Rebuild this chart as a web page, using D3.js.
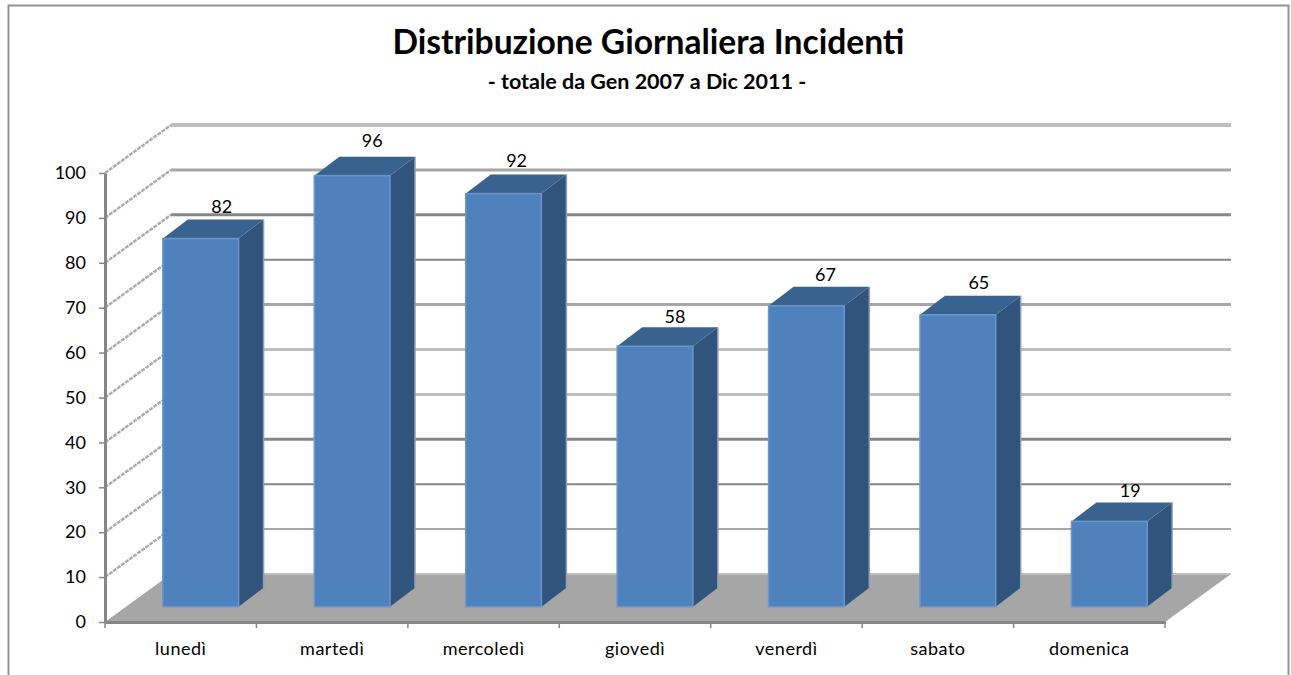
<!DOCTYPE html>
<html>
<head>
<meta charset="utf-8">
<script src="https://cdn.jsdelivr.net/npm/d3@7"></script>
<style>
html,body{margin:0;padding:0;background:#fff;overflow:hidden}
svg{display:block}
text{font-family:Lato,"Open Sans",sans-serif;fill:#000}
</style>
</head>
<body>
<svg id="c" width="1291" height="675"></svg>
<script>
const titleText = "Distribuzione Giornaliera Incidenti";
const subtitleText = "- totale da Gen 2007 a Dic 2011 -";
const categories = ["lunedì","martedì","mercoledì","giovedì","venerdì","sabato","domenica"];
const values = [82,96,92,58,67,65,19];
const yTicks = [0,10,20,30,40,50,60,70,80,90,100];
const gridColors = ["#a6a6a6","#a6a6a6","#868686","#868686","#bfbfbf","#bfbfbf","#a6a6a6","#868686","#868686","#a6a6a6","#bfbfbf"];
const gridWidths = [3,2,2,3,3,3,3,2,3,3,4];
// hand-placed data label offsets from the default position
const labelNudgeX = [1,0,-7,0,-1,1,1];
const labelNudgeY = [1,-2,0,4,2,1,3];

const svg = d3.select("#c");
const W = 1291, H = 675;

// frame
svg.append("path").attr("d",`M8.5,${H} V5.5 H1288.5 V${H}`)
  .attr("fill","none").attr("stroke","#929292").attr("stroke-width",2);

// scales
const x = d3.scaleBand().domain(categories).range([105,1165]).paddingInner(0.5).paddingOuter(0.25);
const y = d3.scaleLinear().domain([0,100]).range([622,173]);
const wallDX = 66, wallDY = -48;      // depth of the back wall
const barDX = 20, barDY = -15.3;      // front plane of the bars
const sideDX = 25, sideDY = -19;      // depth of a bar

// floor
svg.append("path")
  .attr("d",`M${105},${y(0)} L${105+wallDX},${y(0)+wallDY} H${1165+wallDX} L1165,${y(0)} Z`)
  .attr("fill","#a6a6a6");
svg.append("line").attr("x1",105+wallDX).attr("x2",1165+wallDX)
  .attr("y1",y(0)+wallDY).attr("y2",y(0)+wallDY).attr("stroke","#bfbfbf").attr("stroke-width",2);

// back wall gridlines
svg.append("g").selectAll("line").data(yTicks.filter(d=>d>0)).join("line")
  .attr("x1",105+wallDX).attr("x2",1165+wallDX)
  .attr("y1",d=>y(d)+wallDY).attr("y2",d=>y(d)+wallDY)
  .attr("stroke",(d,i)=>gridColors[i+1]).attr("stroke-width",(d,i)=>gridWidths[i+1]);

// side wall diagonals
svg.append("g").selectAll("line").data(yTicks.filter(d=>d>0)).join("line")
  .attr("x1",105).attr("x2",105+wallDX)
  .attr("y1",d=>y(d)).attr("y2",d=>y(d)+wallDY)
  .attr("stroke","#adadad").attr("stroke-width",2.5).attr("stroke-dasharray","4 1");

// bars
const bars = svg.append("g").selectAll("g").data(categories.map((c,i)=>({c,v:values[i],i}))).join("g");
const bw = x.bandwidth();
bars.append("path") // side
  .attr("d",d=>{const l=x(d.c)+barDX+bw, t=y(d.v)+barDY, b=y(0)+barDY;
    return `M${l},${t} L${l+sideDX},${t+sideDY} V${b+sideDY} L${l},${b} Z`;})
  .attr("fill","#31547c");
bars.append("line")
  .attr("x1",d=>x(d.c)+barDX+bw+sideDX).attr("x2",d=>x(d.c)+barDX+bw+sideDX)
  .attr("y1",d=>y(d.v)+barDY+sideDY).attr("y2",y(0)+barDY+sideDY)
  .attr("stroke","#8ca0b8").attr("stroke-width",1.5);
bars.append("path") // top
  .attr("d",d=>{const l=x(d.c)+barDX, t=y(d.v)+barDY;
    return `M${l},${t} L${l+sideDX},${t+sideDY} H${l+bw+sideDX} L${l+bw},${t} Z`;})
  .attr("fill","#3a628f");
bars.append("rect") // front
  .attr("x",d=>x(d.c)+barDX).attr("y",d=>y(d.v)+barDY)
  .attr("width",bw).attr("height",d=>y(0)-y(d.v))
  .attr("fill","#4f81bd").attr("stroke","#6b96cc").attr("stroke-width",1.5);

// value labels
bars.append("text")
  .attr("x",d=>x(d.c)+barDX+bw/2+sideDX-5+labelNudgeX[d.i])
  .attr("y",d=>y(d.v)+barDY+sideDY-8+labelNudgeY[d.i])
  .attr("text-anchor","middle").attr("font-size",18).text(d=>d.v);

// axes
const yAxis = svg.append("g").attr("transform","translate(105,0)")
  .call(d3.axisLeft(y).tickValues(yTicks).tickSize(6).tickPadding(13).tickSizeOuter(0));
const xAxis = svg.append("g").attr("transform",`translate(0,${y(0)})`)
  .call(d3.axisBottom(x).tickSize(0).tickPadding(20));
yAxis.selectAll("text").attr("font-size",18).attr("font-family",null);
xAxis.selectAll("text").attr("font-size",18).attr("font-family",null).attr("letter-spacing",0.5);
yAxis.selectAll(".tick line").attr("stroke","#868686").attr("stroke-width",1.5);
[yAxis,xAxis].forEach(a=>a.select(".domain").attr("stroke","#868686").attr("stroke-width",3));
svg.append("g").selectAll("line")
  .data(d3.range(categories.length+1)).join("line")
  .attr("x1",i=>105+i*x.step()).attr("x2",i=>105+i*x.step())
  .attr("y1",y(0)).attr("y2",y(0)+6)
  .attr("stroke","#868686").attr("stroke-width",1.5);

// titles
svg.append("text").attr("x",648.5).attr("y",54).attr("text-anchor","middle")
  .attr("font-size",33.6).attr("font-weight",700).text(titleText);
svg.append("text").attr("x",647).attr("y",89).attr("text-anchor","middle")
  .attr("font-size",21.5).attr("font-weight",700).text(subtitleText);
</script>
</body>
</html>
